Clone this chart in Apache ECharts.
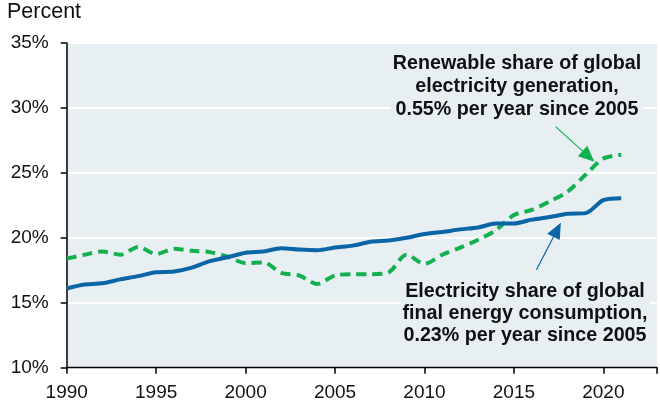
<!DOCTYPE html>
<html>
<head>
<meta charset="utf-8">
<script src="https://cdn.jsdelivr.net/npm/echarts@6/dist/echarts.min.js"></script>
<style>html,body{margin:0;padding:0;background:#fff}#c{width:660px;height:404px}</style>
</head>
<body>
<div id="c"></div>
<script>
var years = [1990,1991,1992,1993,1994,1995,1996,1997,1998,1999,2000,2001,2002,2003,2004,2005,2006,2007,2008,2009,2010,2011,2012,2013,2014,2015,2016,2017,2018,2019,2020,2021];
var electricityShare = [16.1,16.4,16.5,16.8,17.05,17.35,17.4,17.7,18.2,18.5,18.85,18.95,19.2,19.1,19.05,19.25,19.4,19.7,19.8,20.0,20.3,20.45,20.65,20.8,21.1,21.1,21.4,21.6,21.85,21.9,22.9,23.05];
var renewableShare = [18.4,18.7,18.95,18.7,19.3,18.75,19.15,19.0,18.9,18.55,18.05,18.1,17.3,17.1,16.45,17.1,17.2,17.2,17.35,18.7,18.0,18.7,19.25,19.85,20.6,21.75,22.15,22.8,23.55,24.85,26.1,26.4];
var yTicks = [10,15,20,25,30,35];
var xTicks = [1990,1995,2000,2005,2010,2015,2020];
var renewableLabel = ['Renewable share of global','electricity generation,','0.55% per year since 2005'];
var electricityLabel = ['Electricity share of global','final energy consumption,','0.23% per year since 2005'];

var FONT = '"Liberation Sans", Arial, sans-serif';
var BG = '#e7eff3';
var chart = echarts.init(document.getElementById('c'), null, {renderer:'canvas'});
function pairs(v){ return years.map(function(y,i){ return [y, v[i]]; }); }

chart.setOption({
  animation:false,
  backgroundColor:'#ffffff',
  grid:{left:66.7, top:43, right:-4, bottom:36.3, show:true, backgroundColor:BG, borderWidth:0},
  xAxis:{
    type:'value', min:1990, max:2023, interval:5,
    axisLine:{show:true, lineStyle:{color:'#000', width:1.3}},
    axisTick:{show:true, length:6, lineStyle:{color:'#000', width:1.5}},
    axisLabel:{fontFamily:FONT, fontSize:19, color:'#111', margin:16,
      formatter:function(v){ return xTicks.indexOf(v) >= 0 ? String(v) : ''; }},
    splitLine:{show:false}
  },
  yAxis:{
    type:'value', min:10, max:35, interval:5,
    axisLine:{show:true, lineStyle:{color:'#000', width:1.5}},
    axisTick:{show:true, length:6, lineStyle:{color:'#000', width:1.5}},
    axisLabel:{fontFamily:FONT, fontSize:19, color:'#111', margin:18,
      formatter:function(v){ return yTicks.indexOf(v) >= 0 ? v + '%' : ''; }},
    splitLine:{show:true, lineStyle:{color:'#ffffff', width:2}}
  },
  series:[
    {
      type:'line', name:'Renewable', data:pairs(renewableShare), symbol:'none', smooth:0.3, z:3,
      lineStyle:{color:'#13b04f', width:4, type:[10,6]},
      markLine:{
        silent:true, symbol:['none','triangle'], symbolSize:[14,16],
        label:{show:false},
        lineStyle:{color:'#13b04f', width:1.2, type:'solid'},
        data:[[{coord:[2017.33,28.56]},{coord:[2019.17,26.27]}]]
      }
    },
    {
      type:'line', name:'Electricity', data:pairs(electricityShare), symbol:'none', smooth:0.3, z:4,
      lineStyle:{color:'#0a65a6', width:4},
      markLine:{
        silent:true, symbol:['none','triangle'], symbolSize:[14,16],
        label:{show:false},
        lineStyle:{color:'#0a65a6', width:1.2, type:'solid'},
        data:[[{coord:[2016.26,17.54]},{coord:[2017.42,20.62]}]]
      }
    }
  ],
  graphic:[
    {type:'text', left:7, top:1, style:{text:'Percent', font:'21.5px '+FONT, fill:'#111'}},
    {type:'text', x:517, y:52, z:10, style:{text:renewableLabel.join('\n'), font:'bold 19.7px '+FONT, fill:'#111', textAlign:'center', lineHeight:23, backgroundColor:BG, padding:[0,2,0,2]}},
    {type:'text', x:525, y:281, z:10, style:{text:electricityLabel.join('\n'), font:'bold 19.7px '+FONT, fill:'#111', textAlign:'center', lineHeight:22, backgroundColor:BG, padding:[0,2,0,2]}}
  ]
});
</script>
</body>
</html>
